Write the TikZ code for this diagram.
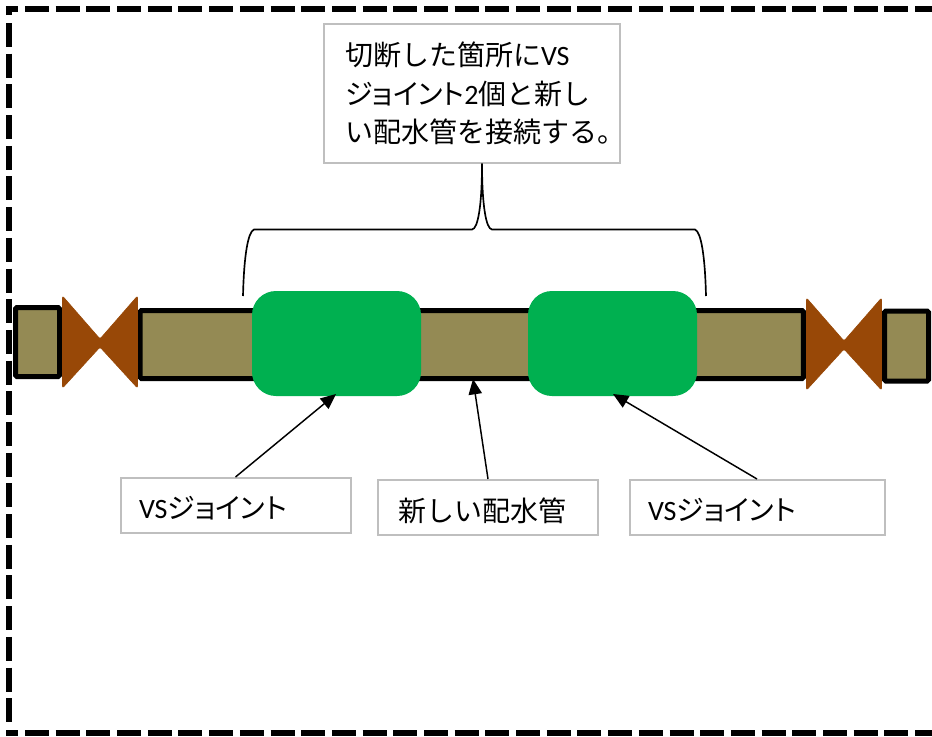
\documentclass[tikz,border=0pt]{standalone}
\usepackage{fontspec}
\setmainfont{Noto Sans CJK JP}
\newfontfamily\lat{Carlito}
\newfontfamily\kana[RawFeature=+palt]{Noto Sans CJK JP}
\usetikzlibrary{arrows.meta}
\definecolor{pipecol}{HTML}{948A54}
\definecolor{valvecol}{HTML}{984807}
\definecolor{jointcol}{HTML}{00B050}
\definecolor{boxcol}{HTML}{BFBFBF}
\newcommand{\VS}{{\lat VS}}
\newcommand{\JI}{{\kana ジョイント}}
\newcommand{\lowered}[1]{\raisebox{0pt}[\dimexpr\height+4.5pt\relax][\depth]{#1}}
\hfuzz=60pt
\tikzset{
  x=0.75pt,y=-0.75pt,
  frameline/.style={line width=4.5pt,black},
  framedash/.style={frameline,dash pattern=on 18pt off 5.02pt},
  pipebox/.style={draw=black,line width=3.75pt,fill=pipecol,rounded corners=1pt,inner sep=0pt},
  valveshape/.style={fill=valvecol,draw=valvecol,line width=0.5pt,rounded corners=1.5pt},
  jointbox/.style={fill=jointcol,rounded corners=18pt,inner sep=0pt,minimum width=126.75pt,minimum height=78.75pt},
  labelbox/.style={draw=boxcol,line width=1.5pt,fill=white,inner sep=0pt,align=left,font=\fontsize{21pt}{29pt}\selectfont},
  leader/.style={line width=1.1pt,black,-{Triangle[length=11.5pt,width=10pt]}},
  bracket/.style={line width=1.25pt,black},
}
\begin{document}
\begin{tikzpicture}
\useasboundingbox (0,0) rectangle (932,736);
% dashed frame
\draw[frameline] (9,15) -- (9,9) -- (18,9);
\draw[framedash] (25,9) -- (932,9);
\draw[framedash] (9,23) -- (9,723);
\draw[frameline] (6,733) -- (18,733);
\draw[framedash] (25,733) -- (932,733);
% pipes
\node[pipebox,minimum width=33pt,minimum height=51.75pt] (pipeL) at (37.5,342) {};
\node[pipebox,minimum width=497.5pt,minimum height=51pt] (pipeM) at (471.75,344.5) {};
\node[pipebox,minimum width=33pt,minimum height=52.5pt] (pipeR) at (906.5,346) {};
% valves
\draw[valveshape] (62.5,296) -- (100,339) -- (137.5,296) -- (137.5,388) -- (100,347) -- (62.5,388) -- cycle;
\draw[valveshape] (806.5,298) -- (844,341) -- (881.5,298) -- (881.5,390) -- (844,349) -- (806.5,390) -- cycle;
% joints
\node[jointbox] (jointA) at (336.5,343.5) {};
\node[jointbox] (jointB) at (612.5,343.5) {};
% top label
\node[labelbox,minimum width=222pt,minimum height=104.25pt,text width=190.5pt] (topbox) at (472,93.5)
  {切断した箇所に\VS\\ \JI{\lat 2}個と新し\\ い配水管を接続する。};
% bracket
\coordinate (apex) at (482,163.5);
\coordinate (brL) at (243,296);
\coordinate (brR) at (706,296);
\draw[bracket] (brL) .. controls (244,255) and (248,232) .. (254,229.5) -- (472,229.5)
  .. controls (478,229) and (482,205) .. (apex);
\draw[bracket] (brR) .. controls (705,255) and (701,232) .. (695,229.5) -- (492,229.5)
  .. controls (486,229) and (482,205) .. (apex);
% lower labels
\node[labelbox,minimum width=172.5pt,minimum height=41.25pt,text width=144.75pt] (labA) at (235.5,505.5) {\lowered{\VS\JI}};
\node[labelbox,minimum width=165pt,minimum height=41.25pt,text width=135pt] (labB) at (488,507.5) {\lowered{新しい配水管}};
\node[labelbox,minimum width=191.25pt,minimum height=41.25pt,text width=163.5pt] (labC) at (757,507.5) {\lowered{\VS\JI}};
% arrows
\coordinate (tipA) at (336,394);
\coordinate (tipB) at (473,379);
\coordinate (tipC) at (613,394);
\draw[leader] (labA.north) -- (tipA);
\draw[leader] (labB.north) -- (tipB);
\draw[leader] (labC.north) -- (tipC);
\end{tikzpicture}
\end{document}
